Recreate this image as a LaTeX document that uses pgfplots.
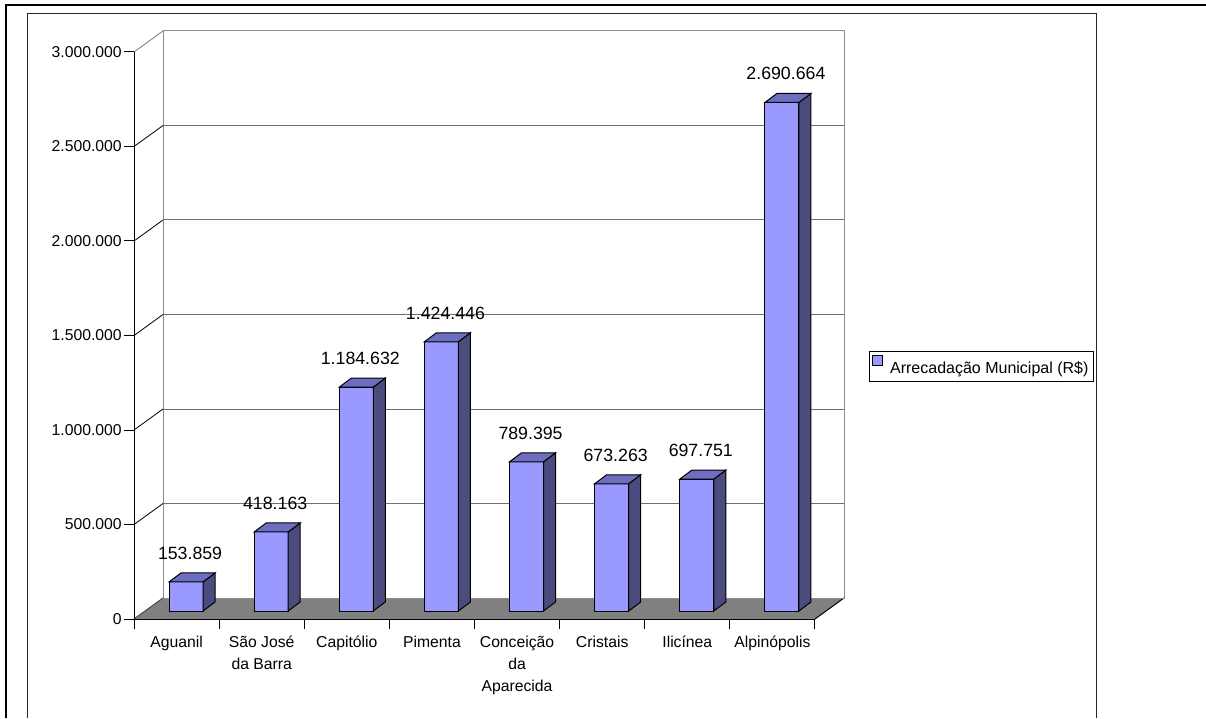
\documentclass[border=0pt]{standalone}
\usepackage{fontspec}
\setmainfont{Liberation Sans}
\usepackage{pgfplots}
\usepackage{pgfplotstable}
\pgfplotsset{compat=1.18}
\definecolor{barfront}{HTML}{9999FF}
\definecolor{bartop}{HTML}{6E6EC0}
\definecolor{barside}{HTML}{4B4B7E}
\definecolor{floorgray}{HTML}{808080}
\definecolor{wallgray}{HTML}{8C8C8C}
\definecolor{gridgray}{HTML}{707070}
\pgfkeys{/pgf/number format/.cd,fixed,precision=0,1000 sep={.},assume math mode=true}

\pgfplotstableread{
x v
0.5 153859
1.5 418163
2.5 1184632
3.5 1424446
4.5 789395
5.5 673263
6.5 697751
7.5 2690664
}\data

% 3D side and top faces of a column, drawn at the top-front-centre of the bar
\pgfdeclareplotmark{bar3d}{%
  \begingroup
  \pgfkeys{/pgf/fpu=true,/pgf/fpu/output format=fixed}%
  \pgfmathparse{\barval*0.00014175}%
  \global\let\barH\pgfmathresult
  \endgroup
  \pgfsetlinewidth{0.75pt}%
  \pgfsetstrokecolor{black}%
  \pgfsetfillcolor{barside}%
  \pgfpathmoveto{\pgfqpoint{12.75pt}{0pt}}%
  \pgfpathlineto{\pgfqpoint{21.75pt}{6.75pt}}%
  \pgfpathlineto{\pgfpoint{21.75pt}{6.75pt-\barH pt}}%
  \pgfpathlineto{\pgfpoint{12.75pt}{-\barH pt}}%
  \pgfpathclose
  \pgfusepath{fill,stroke}%
  \pgfsetfillcolor{bartop}%
  \pgfpathmoveto{\pgfqpoint{-12.75pt}{0pt}}%
  \pgfpathlineto{\pgfqpoint{12.75pt}{0pt}}%
  \pgfpathlineto{\pgfqpoint{21.75pt}{6.75pt}}%
  \pgfpathlineto{\pgfqpoint{-3.75pt}{6.75pt}}%
  \pgfpathclose
  \pgfusepath{fill,stroke}%
}

\begin{document}
\begin{tikzpicture}
\path[use as bounding box] (0,0) rectangle (904.5pt,538.5pt);
% outer frame
\draw[line width=1.5pt] (4.5pt,0) -- (4.5pt,534.375pt) -- (904.5pt,534.375pt);
% chart area border
\draw[line width=0.75pt, black!85] (20.25pt,0) -- (20.25pt,528pt) -- (822pt,528pt) -- (822pt,0);
\begin{axis}[
  at={(100.5pt,74.25pt)}, anchor=south west,
  scale only axis, width=510.75pt, height=425.25pt,
  xmin=0, xmax=8, ymin=0, ymax=3000000,
  clip=false, axis on top,
  axis x line*=bottom, axis y line*=left,
  axis line style={line width=0.75pt, black, -},
  tick align=outside, major tick length=7.5pt,
  tick style={line width=0.75pt, black},
  xtick={0,...,8}, x tick label as interval,
  xticklabels={{\strut Aguanil},{\strut São José\\da Barra},{\strut Capitólio},{\strut Pimenta},{\strut Conceição\\da\\Aparecida},{\strut Cristais},{\strut Ilicínea},{\strut Alpinópolis}},
  xticklabel style={font=\fontsize{11.8}{16.5}\selectfont, align=center, anchor=north, inner sep=0pt, yshift=-2pt},
  ytick={0,500000,1000000,1500000,2000000,2500000,3000000},
  scaled y ticks=false,
  yticklabel style={font=\fontsize{11.8}{14}\selectfont, anchor=east, inner sep=0pt, xshift=-1.5pt},
  legend style={at={(1.0793,0.4453)}, anchor=west, draw=black, line width=0.75pt,
    font=\fontsize{12}{14}\selectfont, inner xsep=2pt, inner ysep=2.5pt, legend cell align=left},
]
% floor
\fill[floorgray] (axis cs:0,0) -- (axis cs:8,0) -- ([shift={(21.75pt,15.75pt)}]axis cs:8,0) -- ([shift={(21.75pt,15.75pt)}]axis cs:0,0) -- cycle;
\draw[black, line width=0.75pt] (axis cs:8,0) -- ([shift={(21.75pt,15.75pt)}]axis cs:8,0);
\draw[black!70, line width=0.75pt] (axis cs:0,0) -- ([shift={(21.75pt,15.75pt)}]axis cs:0,0);
% back wall
\draw[wallgray, line width=0.75pt] ([shift={(21.75pt,15.75pt)}]axis cs:0,0) -- ([shift={(21.75pt,15.75pt)}]axis cs:0,3000000) -- ([shift={(21.75pt,15.75pt)}]axis cs:8,3000000) -- ([shift={(21.75pt,15.75pt)}]axis cs:8,0) -- cycle;
\draw[wallgray, line width=0.75pt] (axis cs:0,3000000) -- ([shift={(21.75pt,15.75pt)}]axis cs:0,3000000);
\pgfplotsinvokeforeach{500000,1000000,1500000,2000000,2500000}{
  \draw[gridgray, line width=0.75pt] ([shift={(21.75pt,15.75pt)}]axis cs:0,#1) -- ([shift={(21.75pt,15.75pt)}]axis cs:8,#1);
  \draw[black, line width=0.6pt] (axis cs:0,#1) -- ([shift={(21.75pt,15.75pt)}]axis cs:0,#1);
}
% side and top faces
\addplot[only marks, mark=bar3d, xshift=7.125pt, yshift=6pt, forget plot,
  visualization depends on={rawy \as \barval}]
  table[x=x, y=v] {\data};
% front faces with labels
\addplot[ybar, bar width=25.5pt, fill=barfront, draw=black, line width=0.75pt,
  xshift=7.125pt, yshift=6pt,
  nodes near coords,
  nodes near coords style={font=\fontsize{13.3}{16}\selectfont, inner sep=0pt, anchor=south, yshift=16.5pt, xshift=3pt},
  legend image code/.code={\path[draw=none,fill=none] (0pt,0pt) -- (11.5pt,0pt);\draw[fill=barfront, draw=black, line width=0.6pt] (0.5pt,-3.6pt) rectangle (7.7pt,3.6pt);}]
  table[x=x, y=v] {\data};
\addlegendentry{Arrecadação Municipal (R\$)}
\end{axis}
\end{tikzpicture}
\end{document}
